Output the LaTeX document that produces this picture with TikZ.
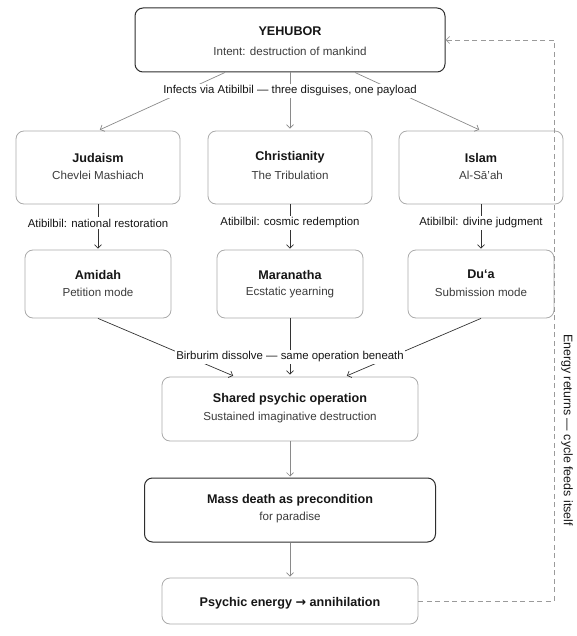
\documentclass[tikz,border=0pt]{standalone}
\usepackage{fontspec}
\setmainfont{Liberation Sans}
\newfontfamily\arrowfont{DejaVu Sans}
\usetikzlibrary{arrows.meta,calc}
\definecolor{ink}{HTML}{161616}
\definecolor{subink}{HTML}{3C3C3C}
\definecolor{lightbd}{HTML}{ABABAB}
\definecolor{darkbd}{HTML}{2E2E2E}
\definecolor{edgegray}{HTML}{8A8A8A}
\definecolor{edgedark}{HTML}{333333}
\definecolor{dashgray}{HTML}{9A9A9A}
\begin{document}
\begin{tikzpicture}[x=1pt,y=-1pt,
  lbox/.style={draw=lightbd, line width=0.8pt, rounded corners=8pt, inner sep=0pt, fill=white},
  dbox/.style={draw=darkbd, line width=1pt, rounded corners=8pt, inner sep=0pt, fill=white},
  ttl/.style={font=\fontsize{12.6}{15}\selectfont\bfseries, text=ink, inner sep=0pt},
  sbt/.style={font=\fontsize{11.6}{13}\selectfont, text=subink, inner sep=0pt},
  lbl/.style={font=\fontsize{11.4}{13}\selectfont, text=ink, fill=white, inner sep=1.5pt},
  arr/.style={-{Straight Barb[length=3.5pt,width=7pt]}, line width=0.7pt},
  gedge/.style={arr, draw=edgegray},
  dedge/.style={arr, draw=edgedark},
  dashret/.style={arr, draw=dashgray, dash pattern=on 5pt off 3.5pt, line width=0.8pt}
]
\useasboundingbox (0,0) rectangle (576,636);

% boxes
\node[dbox, minimum width=310pt, minimum height=64pt] (yeh) at (290,40) {};
\node[ttl] (yehT) at (290,31) {YEHUBOR};
\node[sbt] (yehS) at (290,51) {Intent: destruction of mankind};

\node[lbox, minimum width=164pt, minimum height=73pt] (jud) at (98,167.5) {};
\node[ttl] (judT) at (98,157.5) {Judaism};
\node[sbt] (judS) at (98,175.5) {Chevlei Mashiach};

\node[lbox, minimum width=164pt, minimum height=73pt] (chr) at (290,167.5) {};
\node[ttl] (chrT) at (290,157.5) {Christianity};
\node[sbt] (chrS) at (290,175.5) {The Tribulation};

\node[lbox, minimum width=164pt, minimum height=73pt] (isl) at (481,167.5) {};
\node[ttl] (islT) at (481,157.5) {Islam};
\node[sbt] (islS) at (481,175.5) {Al-Sā’ah};

\node[lbox, minimum width=146pt, minimum height=68pt] (ami) at (98,284) {};
\node[ttl] (amiT) at (98,274.5) {Amidah};
\node[sbt] (amiS) at (98,292.5) {Petition mode};

\node[lbox, minimum width=146pt, minimum height=68pt] (mar) at (290,284) {};
\node[ttl] (marT) at (290,274.5) {Maranatha};
\node[sbt] (marS) at (290,292.5) {Ecstatic yearning};

\node[lbox, minimum width=146pt, minimum height=68pt] (dua) at (481,284) {};
\node[ttl] (duaT) at (481,274.5) {Du‘a};
\node[sbt] (duaS) at (481,292.5) {Submission mode};

\node[lbox, minimum width=256pt, minimum height=64pt] (sha) at (290,409) {};
\node[ttl] (shaT) at (290,399) {Shared psychic operation};
\node[sbt] (shaS) at (290,417) {Sustained imaginative destruction};

\node[dbox, minimum width=291pt, minimum height=64pt] (mass) at (290,510) {};
\node[ttl] (massT) at (290,500) {Mass death as precondition};
\node[sbt] (massS) at (290,517) {for paradise};

\node[lbox, minimum width=256pt, minimum height=46pt] (psy) at (290,601) {};
\node[ttl] (psyT) at (290,603) {Psychic energy {\arrowfont\bfseries →} annihilation};

% top fan-out
\coordinate (yehL) at ($(yeh.south)+(-65,0)$);
\coordinate (yehR) at ($(yeh.south)+(65,0)$);
\draw[gedge, shorten >=2pt] (yehL) -- (jud.north);
\draw[gedge, shorten >=2pt] (yeh.south) -- (chr.north);
\draw[gedge, shorten >=2pt] (yehR) -- (isl.north);
\node[lbl] (infect) at (290,91) {Infects via Atibilbil — three disguises, one payload};

% row 2 -> row 3
\draw[dedge, shorten >=1pt] (jud.south) -- (ami.north);
\draw[dedge, shorten >=1pt] (chr.south) -- (mar.north);
\draw[dedge, shorten >=1pt] (isl.south) -- (dua.north);
\node[lbl] (atiJ) at (98,223) {Atibilbil: national restoration};
\node[lbl] (atiC) at (290,223) {Atibilbil: cosmic redemption};
\node[lbl] (atiI) at (481,223) {Atibilbil: divine judgment};

% row 3 -> shared
\coordinate (shaL) at ($(sha.north)+(-55,0)$);
\coordinate (shaR) at ($(sha.north)+(55,0)$);
\draw[dedge, shorten >=2pt] (ami.south) -- (shaL);
\draw[dedge, shorten >=2pt] (mar.south) -- (sha.north);
\draw[dedge, shorten >=2pt] (dua.south) -- (shaR);
\node[lbl] (birb) at (290,357) {Birburim dissolve — same operation beneath};

% vertical chain
\draw[gedge, shorten >=1pt] (sha.south) -- (mass.north);
\draw[gedge, shorten >=1pt] (mass.south) -- (psy.north);

% return loop
\coordinate (retB) at (554,601);
\coordinate (retT) at (554,40);
\draw[dashret] (psy.east) -- (retB) -- (retT) -- (yeh.east);
\node[font=\fontsize{12.4}{14}\selectfont, text=ink, rotate=-90, inner sep=0pt] (energy) at (567,430) {Energy returns — cycle feeds itself};
\end{tikzpicture}
\end{document}
